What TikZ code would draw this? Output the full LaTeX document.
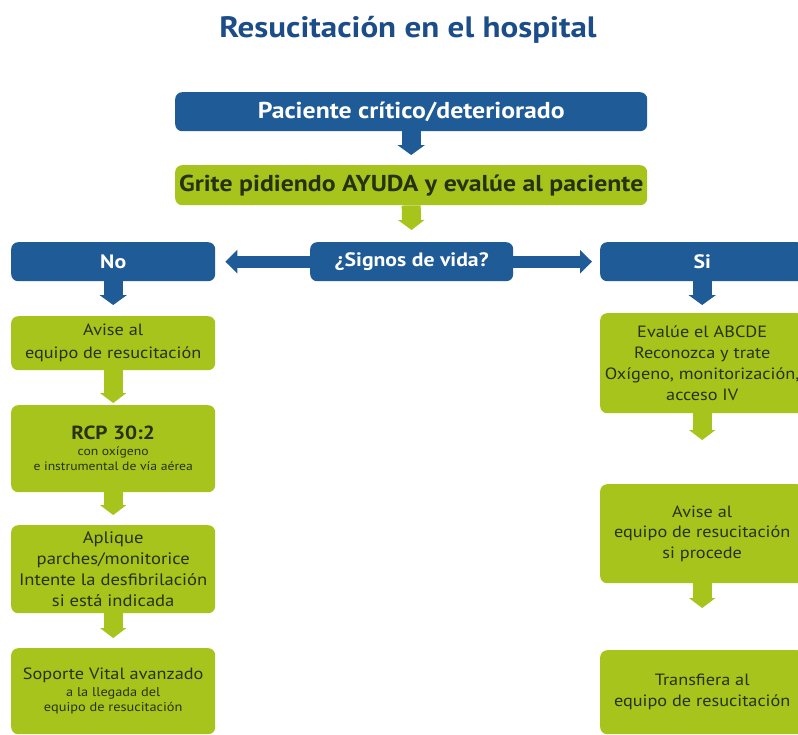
\documentclass[tikz,border=0pt]{standalone}
\usepackage{fontspec}
\setmainfont{PT Sans}[FakeStretch=1.12]
\usetikzlibrary{arrows.meta}
\definecolor{cblue}{HTML}{1F5B96}
\definecolor{cgreen}{HTML}{A7C41C}
\definecolor{ctext}{HTML}{263210}
\definecolor{ctitle}{HTML}{1C4D88}
\begin{document}
\begin{tikzpicture}[x=1pt,y=-1pt,
  bluebox/.style={fill=cblue, text=white, rounded corners=7pt, anchor=north west,
    inner sep=0pt, align=center, font=\bfseries},
  greenbox/.style={fill=cgreen, text=ctext, rounded corners=7pt, anchor=north west,
    inner sep=0pt, align=center},
  bvarr/.style={draw=cblue, line width=19pt, -{Triangle[width=27pt,length=10pt]}},
  gvarr/.style={draw=cgreen, line width=19pt, -{Triangle[width=26pt,length=10pt]}},
  bharr/.style={draw=cblue, line width=12pt, -{Triangle[width=23pt,length=12pt]}}
]
\clip (0,0) rectangle (798,734);
\fill[white] (0,0) rectangle (798,734);

\node[anchor=base, text=ctitle, font=\fontsize{29.5}{32}\selectfont\bfseries] (title) at (408,37) {Resucitación en el hospital};

\node[bluebox, minimum width=472pt, minimum height=39pt, font=\fontsize{23}{26}\selectfont\bfseries] (b1) at (175,92) {Paciente crítico/deteriorado};
\node[greenbox, minimum width=472pt, minimum height=40pt, font=\fontsize{23}{26}\selectfont\bfseries] (b2) at (175,165) {Grite pidiendo AYUDA y evalúe al paciente};

\node[bluebox, minimum width=203pt, minimum height=39pt, font=\fontsize{19.4}{22}\selectfont\bfseries] (sig) at (310,242) {¿Signos de vida?};
\node[bluebox, minimum width=204pt, minimum height=39pt, font=\fontsize{19.4}{22}\selectfont\bfseries] (no) at (11,242) {No};
\node[bluebox, minimum width=204pt, minimum height=39pt, font=\fontsize{19.4}{22}\selectfont\bfseries] (si) at (600,242) {Si};

% left column
\node[greenbox, minimum width=204pt, minimum height=54pt, font=\fontsize{16.3}{23}\selectfont] (l1) at (11,316) {Avise al\\equipo de resucitación};
\node[greenbox, minimum width=204pt, minimum height=87pt, font=\fontsize{12.2}{15.5}\selectfont] (l2) at (11,405)
  {{\fontsize{19}{22}\selectfont\bfseries RCP 30:2}\\
   con oxígeno\\
   e instrumental de vía aérea};
\node[greenbox, minimum width=204pt, minimum height=88pt, font=\fontsize{16.6}{21}\selectfont] (l3) at (11,525) {Aplique\\parches/monitorice\\Intente la desfibrilación\\si está indicada};
\node[greenbox, minimum width=204pt, minimum height=86pt, font=\fontsize{12.8}{15.5}\selectfont] (l4) at (11,648)
  {{\fontsize{16.3}{20}\selectfont Soporte Vital avanzado}\\[1.5pt]
   a la llegada del\\
   equipo de resucitación};

% right column
\node[greenbox, minimum width=204pt, minimum height=100pt, font=\fontsize{16.3}{20.7}\selectfont] (r1) at (600,313) {Evalúe el ABCDE\\Reconozca y trate\\Oxígeno, monitorización,\\acceso IV};
\node[greenbox, minimum width=204pt, minimum height=99pt, font=\fontsize{16.3}{20.7}\selectfont] (r2) at (600,484) {Avise al\\equipo de resucitación\\si procede};
\node[greenbox, minimum width=204pt, minimum height=84pt, font=\fontsize{16.3}{21}\selectfont] (r3) at (600,650) {Transfiera al\\equipo de resucitación};

% arrows
\draw[bvarr, shorten >=10pt] (b1.south) -- (b2.north);
\draw[gvarr, shorten >=12pt] (b2.south) -- (sig.north);
\draw[bharr, shorten >=10pt] (sig.west) -- (no.east);
\draw[bharr, shorten >=8pt] (sig.east) -- (si.west);
\draw[bvarr, shorten >=11pt] (no.south) -- (l1.north);
\draw[bvarr, shorten >=8pt] (si.south) -- (r1.north);
\draw[gvarr, shorten >=2pt] (l1.south) -- (l2.north);
\draw[gvarr, shorten >=10pt] (l2.south) -- (l3.north);
\draw[gvarr, shorten >=10pt] (l3.south) -- (l4.north);
\draw[gvarr, shorten >=44pt] (r1.south) -- (r2.north);
\draw[gvarr, shorten >=42pt] (r2.south) -- (r3.north);
\end{tikzpicture}
\end{document}
